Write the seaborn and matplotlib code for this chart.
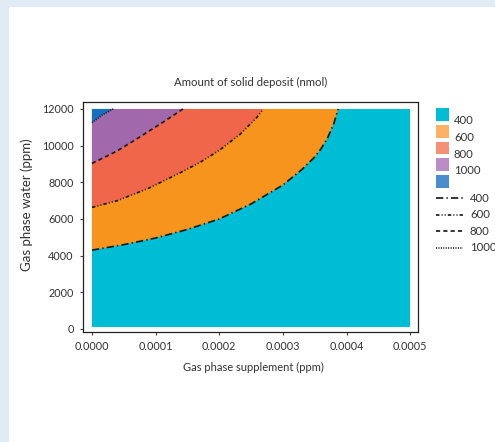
import numpy as np
import pandas as pd
import seaborn as sns
import matplotlib.pyplot as plt
from matplotlib.patches import Rectangle
from matplotlib.lines import Line2D

sns.set_theme(style="white")
plt.rcParams['font.family'] = ['Lato', 'DejaVu Sans']

# Contour levels of the solid deposit (nmol)
levels = ["400", "600", "800", "1000"]

# Level boundaries: supplement (ppm) -> water (ppm)
x400 = [0, 0.00005, 0.0001, 0.00015, 0.0002, 0.00025, 0.0003, 0.00033,
        0.00035, 0.00036, 0.00037, 0.00038, 0.000387]
y400 = [4300, 4600, 4960, 5430, 6000, 6820, 7850, 8700,
        9380, 9830, 10400, 11200, 12000]

x600 = [0, 0.00004, 0.00009, 0.000145, 0.00017, 0.0002, 0.000233, 0.000259, 0.000269]
y600 = [6630, 7000, 7690, 8630, 9090, 9740, 10630, 11530, 12000]

x800 = [0, 0.00002, 0.00004, 0.00007, 0.0001, 0.00012, 0.000143]
y800 = [9030, 9370, 9720, 10360, 11020, 11470, 12000]

x1000 = [0, 0.000016, 0.0000335]
y1000 = [11250, 11670, 12000]

# Grid extent of the computed field
x_range = [0, 0.0005]
y_range = [120, 12000]

fill_colors = ['#00bdd6', '#f7941d', '#f0664b', '#a169ab', '#1470c0']
key_colors = ['#00bdd6', '#fdb163', '#f58f77', '#ba8dc4', '#4b8cce']
# dash patterns (in multiples of the line width)
dash_styles = {"400": (4.2, 1.8, 0.8, 1.8),
               "600": (2.0, 1.2, 0.6, 1.2, 0.6, 1.2),
               "800": (2.4, 1.8),
               "1000": (0.6, 0.8)}

xs = [x400, x600, x800, x1000]
ys = [y400, y600, y800, y1000]

text_col = '#333333'

fig = plt.figure(figsize=(4.95, 4.42), dpi=100)
fig.patch.set_facecolor('#e1ebf6')
fig.add_artist(Rectangle((9 / 495, 0), 1, 1 - 7 / 442, transform=fig.transFigure,
                         facecolor='white', edgecolor='none', zorder=-10))

ax = fig.add_axes([0.167, 0.2489, 0.677, 0.5197])
ax.set_facecolor('white')

# filled bands
ax.fill_between(x_range, y_range[0], y_range[1], color=fill_colors[0], lw=0)
for xb, yb, col in zip(xs, ys, fill_colors[1:]):
    ax.fill(list(xb) + [0], list(yb) + [y_range[1]], color=col, lw=0)

# contour lines
rows = []
for lev, xb, yb in zip(levels, xs, ys):
    for xv, yv in zip(xb, yb):
        rows.append({"level": lev, "x": xv, "y": yv})
df = pd.DataFrame(rows)
sns.lineplot(data=df, x="x", y="y", style="level", style_order=levels,
             dashes=dash_styles, color='#1e1e1e', linewidth=1.25,
             sort=False, estimator=None, legend=False, ax=ax)

ax.set_xlim(-0.0000146, 0.000512)
ax.set_ylim(-164, 12365)
xt = [0, 0.0001, 0.0002, 0.0003, 0.0004, 0.0005]
ax.set_xticks(xt)
ax.set_xticklabels([f"{v:.4f}" for v in xt])
yt = [0, 2000, 4000, 6000, 8000, 10000, 12000]
ax.set_yticks(yt)
ax.set_yticklabels([str(v) for v in yt])

for s in ax.spines.values():
    s.set_visible(True)
    s.set_color('#222222')
    s.set_linewidth(0.9)
ax.tick_params(left=True, bottom=True, direction='out', length=2.5, width=0.8,
               color='#444444', labelsize=7.8, labelcolor=text_col, pad=4)

ax.set_title("Amount of solid deposit (nmol)", fontsize=8.2, color=text_col, pad=12)
ax.set_xlabel("Gas phase supplement (ppm)", fontsize=8, color=text_col)
ax.set_ylabel("Gas phase water (ppm)", fontsize=9.5, color=text_col)
ax.xaxis.set_label_coords(0.511, -0.131)
ax.yaxis.set_label_coords(-0.147, 0.553)

# colour key
W, H = 495.0, 442.0
for i, col in enumerate(key_colors):
    top = 108.3 + i * 16.7
    fig.add_artist(Rectangle((436 / W, 1 - (top + 12.5) / H), 13 / W, 12.5 / H,
                             transform=fig.transFigure, facecolor=col, edgecolor='none'))
for i, lev in enumerate(levels):
    yc = 120.7 + i * 16.7
    fig.text(454 / W, 1 - yc / H, lev, ha='left', va='center', fontsize=8.2, color=text_col)

# line-style key
for i, lev in enumerate(levels):
    yc = 198.3 + i * 16.5
    fig.add_artist(Line2D([436 / W, 463 / W], [1 - yc / H, 1 - yc / H],
                          transform=fig.transFigure, color='#1e1e1e', lw=1.25,
                          dashes=dash_styles[lev]))
    fig.text(470 / W, 1 - yc / H, lev, ha='left', va='center', fontsize=8.2, color=text_col)

fig.savefig("out.png", dpi=100)
